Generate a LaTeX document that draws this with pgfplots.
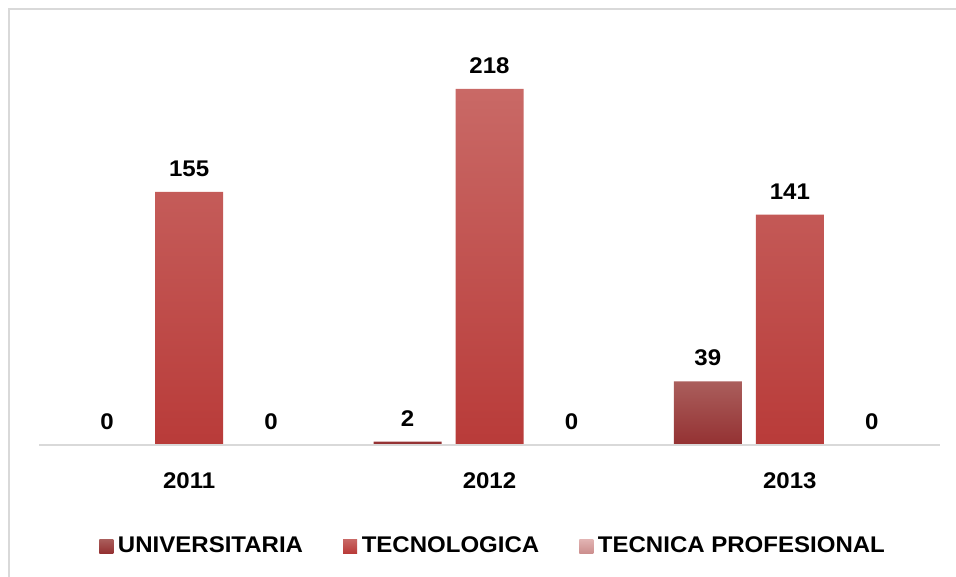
\documentclass[border=0pt]{standalone}
\usepackage{fontspec}
\setmainfont{Liberation Sans}[FakeStretch=1.06]
\usepackage{pgfplots}
\pgfplotsset{compat=1.18}

\definecolor{uniTop}{HTML}{AA5E5C}
\definecolor{uniBot}{HTML}{943132}
\definecolor{tecTop}{HTML}{C96966}
\definecolor{tecBot}{HTML}{B93B39}
\definecolor{proTop}{HTML}{E2B4B3}
\definecolor{proBot}{HTML}{CC8F8E}
\definecolor{frame}{HTML}{D9D9D9}

\newcommand{\lbl}{\bfseries\fontsize{17}{20}\selectfont}

\begin{document}
\begin{tikzpicture}
\useasboundingbox (0,0) rectangle (717pt,-432.75pt);
\draw[frame, line width=1.5pt] (7pt,-432.75pt) -- (7pt,-7pt) -- (717pt,-7pt);
\begin{axis}[
    at={(29.25pt,-333.75pt)}, anchor=south west,
    scale only axis,
    width=675.75pt, height=318.5pt,
    xmin=-0.5, xmax=2.5, ymin=0, ymax=260,
    enlargelimits=false, clip=false,
    axis on top,
    ybar=10.5pt, bar width=51pt,
    axis x line*=bottom, axis y line=none,
    x axis line style={draw=frame, line width=1.5pt, -},
    xtick={0,1,2}, xticklabels={2011,2012,2013},
    major tick length=0pt,
    xticklabel style={font=\lbl, yshift=-17pt},
    /pgf/number format/assume math mode=true,
    nodes near coords,
    every node near coord/.append style={font=\lbl, text=black, yshift=8pt},
    legend columns=3,
    legend style={draw=none, font=\lbl, at={(0.5044,-0.238)}, anchor=center,
        /tikz/every odd column/.append style={column sep=1.5pt},
        /tikz/every even column/.append style={column sep=28pt}},
    legend image code/.code={\path[#1] (0pt,-5.25pt) rectangle (10.5pt,5.25pt);},
]
\addplot[draw=none, top color=uniTop, bottom color=uniBot] coordinates {(0,0) (1,2) (2,39)};
\addplot[draw=none, top color=tecTop, bottom color=tecBot] coordinates {(0,155) (1,218) (2,141)};
\addplot[draw=none, top color=proTop, bottom color=proBot] coordinates {(0,0) (1,0) (2,0)};
\legend{UNIVERSITARIA, TECNOLOGICA, TECNICA PROFESIONAL}
\end{axis}
\end{tikzpicture}
\end{document}
